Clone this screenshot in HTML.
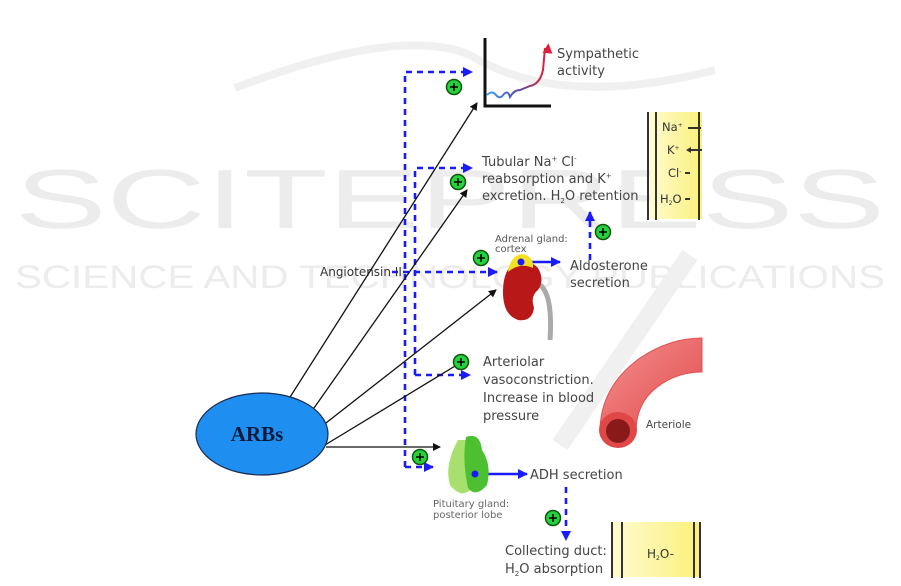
<!DOCTYPE html>
<html><head><meta charset="utf-8"><style>
html,body{margin:0;padding:0;background:#fff;}
svg{display:block;}
</style></head><body>
<svg width="901" height="586" viewBox="0 0 901 586" xmlns="http://www.w3.org/2000/svg" font-family="DejaVu Sans, Liberation Sans, sans-serif">
<defs>
<marker id="ab" markerWidth="8" markerHeight="8" refX="7" refY="4" orient="auto" markerUnits="userSpaceOnUse"><path d="M0,0 L8,4 L0,8 z" fill="#111"/></marker>
<marker id="bl" markerWidth="10" markerHeight="10" refX="9" refY="5" orient="auto" markerUnits="userSpaceOnUse"><path d="M0,0 L10,5 L0,10 z" fill="#1a1aff"/></marker>
<marker id="rd" markerWidth="10" markerHeight="12" refX="5" refY="2" orient="auto" markerUnits="userSpaceOnUse"><path d="M0,0 L10,5 L0,10 z" fill="#e0203a"/></marker>
<linearGradient id="cg" x1="0" x2="1"><stop offset="0" stop-color="#3aa0ff"/><stop offset="0.5" stop-color="#5050b0"/><stop offset="1" stop-color="#e0203a"/></linearGradient>
<linearGradient id="yg" x1="0" x2="1"><stop offset="0" stop-color="#fffbd0"/><stop offset="1" stop-color="#fbf07a"/></linearGradient>
<linearGradient id="ag" x1="0" y1="0" x2="1" y2="1"><stop offset="0" stop-color="#f59090"/><stop offset="1" stop-color="#e04a4a"/></linearGradient>
<g id="plus"><circle r="7.5" fill="#22d43a" stroke="#115511" stroke-width="1.5"/><path d="M-4,0 H4 M0,-4 V4" stroke="#000" stroke-width="1.6"/></g>
</defs>

<!-- watermark -->
<g fill="#ececec" style="font-family:'Liberation Sans',sans-serif">
<text x="450" y="228" font-size="84" text-anchor="middle" textLength="870" lengthAdjust="spacingAndGlyphs">SCITEPRESS</text>
<text x="450" y="288" font-size="32" text-anchor="middle" textLength="870" lengthAdjust="spacingAndGlyphs">SCIENCE AND TECHNOLOGY PUBLICATIONS</text>
</g>
<path d="M235,88 Q400,25 470,55 Q560,110 715,70" fill="none" stroke="#f0f0f0" stroke-width="8"/>
<path d="M560,445 L690,255" fill="none" stroke="#f0f0f0" stroke-width="18"/>

<!-- blue dashed -->
<g stroke="#1a1aff" stroke-width="2.6" stroke-dasharray="6,5" fill="none">
<path d="M405,467 L405,72 L472,72" marker-end="url(#bl)"/>
<path d="M405,467 L433,467" marker-end="url(#bl)"/>
<path d="M415,375 L415,168 L472,168" marker-end="url(#bl)"/>
<path d="M415,375 L470,375" marker-end="url(#bl)"/>
<path d="M392,272 L497,272" marker-end="url(#bl)"/>
<path d="M590,260 L590,212" marker-end="url(#bl)"/>
<path d="M566,487 L566,540" marker-end="url(#bl)"/>
</g>
<g stroke="#1a1aff" stroke-width="2.6" fill="none">
<path d="M522,262 L560,262" marker-end="url(#bl)"/>
<path d="M476,474 L527,474" marker-end="url(#bl)"/>
</g>

<!-- graph -->
<path d="M485,38 L485,106 L551,106" fill="none" stroke="#111" stroke-width="3"/>
<path d="M487,95 Q492,90 496,95 Q500,100 504,94 Q508,90 510,97 Q514,90 520,90 L530,86 Q540,84 543,70 L545,48" fill="none" stroke="url(#cg)" stroke-width="2" marker-end="url(#rd)"/>
<text x="557" y="58" font-size="13" fill="#444">Sympathetic</text>
<text x="557" y="75" font-size="13" fill="#444">activity</text>

<text x="482" y="166" font-size="13" fill="#444">Tubular Na<tspan font-size="7" dy="-5">+</tspan><tspan dy="5"> Cl</tspan><tspan font-size="7" dy="-5">-</tspan></text>
<text x="482" y="183" font-size="13" fill="#444">reabsorption and K<tspan font-size="7" dy="-5">+</tspan></text>
<text x="482" y="200" font-size="13" fill="#444">excretion. H<tspan font-size="7" dy="3">2</tspan><tspan dy="-3">O retention</tspan></text>

<!-- membrane panel -->
<rect x="650" y="112" width="52" height="107" fill="url(#yg)"/>
<path d="M648,112 V220 M656,112 V220 M699,112 V220" stroke="#333" stroke-width="2"/>
<g font-size="11.5" fill="#333">
<text x="662" y="131">Na<tspan font-size="6" dy="-4">+</tspan></text>
<text x="667" y="154">K<tspan font-size="6" dy="-4">+</tspan></text>
<text x="668" y="177">Cl<tspan font-size="6" dy="-4">-</tspan></text>
<text x="660" y="203">H<tspan font-size="6" dy="2">2</tspan><tspan dy="-2">O</tspan></text>
</g>
<path d="M688,128 H701 M688,150 H702 M685,173 H690 M685,199 H690" stroke="#333" stroke-width="2"/>
<path d="M686,150 l5,-3 v6 z" fill="#333"/>

<!-- adrenal / kidney -->
<text x="495" y="242" font-size="10" fill="#555">Adrenal gland:</text>
<text x="495" y="252" font-size="10" fill="#555">cortex</text>
<path d="M540,285 Q553,295 550,340" fill="none" stroke="#aaa" stroke-width="5"/>
<path d="M515,262 Q503,270 503,292 Q503,315 518,320 Q532,322 534,308 Q530,296 538,290 Q545,280 538,268 Q528,258 515,262 z" fill="#b81818"/>
<path d="M508,272 Q510,256 522,254 Q534,256 533,268 Q520,262 508,272 z" fill="#f5e020"/>
<circle cx="521" cy="262" r="3.5" fill="#1a1aff"/>
<text x="570" y="270" font-size="13" fill="#444">Aldosterone</text>
<text x="570" y="287" font-size="13" fill="#444">secretion</text>

<text x="320" y="276" font-size="12" fill="#333">Angiotensin II</text>

<text x="483" y="366" font-size="13" fill="#444">Arteriolar</text>
<text x="483" y="384" font-size="13" fill="#444">vasoconstriction.</text>
<text x="483" y="402" font-size="13" fill="#444">Increase in blood</text>
<text x="483" y="420" font-size="13" fill="#444">pressure</text>

<!-- arteriole -->
<path d="M600,428 Q602,385 640,358 Q670,338 702,338 L702,372 Q676,372 656,388 Q636,404 636,432 z" fill="url(#ag)" stroke="#e05050"/>
<ellipse cx="618" cy="430" rx="19" ry="18" fill="#e04848"/>
<circle cx="618" cy="431" r="12" fill="#8a1a1a"/>
<text x="646" y="428" font-size="10.5" fill="#444">Arteriole</text>

<!-- pituitary -->
<path d="M458,440 Q444,465 450,485 Q462,500 472,488 Q476,465 470,440 z" fill="#a8e070"/>
<path d="M466,437 Q480,432 482,450 Q492,465 487,485 Q476,498 468,488 Q462,460 466,437 z" fill="#4cc030"/>
<circle cx="475" cy="474" r="3.5" fill="#1a1aff"/>
<text x="433" y="507" font-size="10" fill="#666">Pituitary gland:</text>
<text x="433" y="518" font-size="10" fill="#666">posterior lobe</text>
<text x="530" y="479" font-size="13" fill="#444">ADH secretion</text>

<text x="505" y="555" font-size="13" fill="#444">Collecting duct:</text>
<text x="505" y="573" font-size="13" fill="#444">H<tspan font-size="7" dy="3">2</tspan><tspan dy="-3">O absorption</tspan></text>
<rect x="613" y="522" width="87" height="55" fill="url(#yg)"/>
<path d="M612,522 V578 M622,522 V578 M694,522 V578 M700,522 V578" stroke="#333" stroke-width="2"/>
<text x="647" y="558" font-size="12" fill="#333">H<tspan font-size="6" dy="2">2</tspan><tspan dy="-2">O-</tspan></text>

<!-- black arrows -->
<g stroke="#111" stroke-width="1.3" fill="none">
<path d="M285,405 L477,103" marker-end="url(#ab)"/>
<path d="M307,418 L467,190" marker-end="url(#ab)"/>
<path d="M317,430 L496,290" marker-end="url(#ab)"/>
<path d="M325,445 L465,360" marker-end="url(#ab)"/>
<path d="M326,447 L440,447" marker-end="url(#ab)"/>
</g>

<!-- ARBs ellipse -->
<ellipse cx="262" cy="434" rx="66" ry="41" fill="#1e8ff0" stroke="#1a2a50" stroke-width="1.2"/>
<text x="257" y="441" font-size="21" font-weight="bold" fill="#0a1a3a" style="font-family:'Liberation Serif',serif" text-anchor="middle">ARBs</text>

<!-- plus circles -->
<use href="#plus" x="454" y="87"/>
<use href="#plus" x="458" y="182"/>
<use href="#plus" x="481" y="258"/>
<use href="#plus" x="461" y="362"/>
<use href="#plus" x="420" y="457"/>
<use href="#plus" x="603" y="232"/>
<use href="#plus" x="553" y="518"/>
</svg>
</body></html>
